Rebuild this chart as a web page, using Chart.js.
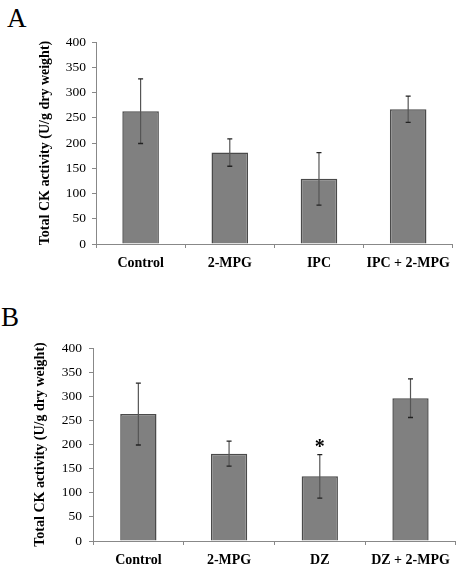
<!DOCTYPE html>
<html>
<head>
<meta charset="utf-8">
<script src="https://cdn.jsdelivr.net/npm/chart.js@4"></script>
<style>
  body { margin: 0; background: #fff; }
  .panel { position: absolute; left: 0; }
  .letter { position: absolute; font-family: "Liberation Serif", serif; font-size: 27px; color: #000; line-height: 1; }
</style>
</head>
<body>
<div class="letter" style="left:7px; top:5px;">A</div>
<div class="letter" style="left:1px; top:304px;">B</div>
<canvas id="chart-a" class="panel" style="top:0" width="457" height="283"></canvas>
<canvas id="chart-b" class="panel" style="top:283px" width="457" height="284"></canvas>
<script>
const categoriesA = ['Control', '2-MPG', 'IPC', 'IPC + 2-MPG'];
const meansA = [263, 181, 129, 267];
const errorsA = [64, 27, 52, 26];

const categoriesB = ['Control', '2-MPG', 'DZ', 'DZ + 2-MPG'];
const meansB = [263, 181, 134, 296];
const errorsB = [64, 26, 45, 40];
const markersB = ['', '', '*', ''];

const yMin = 0;
const yMax = 400;
const yStep = 50;
const yTitle = 'Total CK activity (U/g dry weight)';

const serif = '"Liberation Serif", "Times New Roman", serif';

// error bars + significance marks, drawn from the bar scales
const errorBarPlugin = {
  id: 'errorBars',
  afterDatasetsDraw(chart, args, opts) {
    const {ctx, scales: {x, y}} = chart;
    const means = chart.data.datasets[0].data;
    ctx.save();
    means.forEach((m, i) => {
      const cx = x.getPixelForValue(i);
      const top = y.getPixelForValue(m + opts.errors[i]);
      const bot = y.getPixelForValue(m - opts.errors[i]);
      ctx.strokeStyle = '#555';
      ctx.lineWidth = 1.2;
      ctx.beginPath();
      ctx.moveTo(cx, top);
      ctx.lineTo(cx, bot);
      ctx.stroke();
      ctx.strokeStyle = '#222';
      ctx.lineWidth = 1.3;
      ctx.beginPath();
      ctx.moveTo(cx - 2.5, top);
      ctx.lineTo(cx + 2.5, top);
      ctx.moveTo(cx - 2.5, bot);
      ctx.lineTo(cx + 2.5, bot);
      ctx.stroke();
      const mark = opts.markers ? opts.markers[i] : '';
      if (mark) {
        ctx.fillStyle = '#000';
        ctx.font = 'bold 20px ' + serif;
        ctx.textAlign = 'center';
        ctx.textBaseline = 'alphabetic';
        ctx.fillText(mark, cx, top - 2);
      }
    });
    ctx.restore();
  }
};

const makeChart = (id, labels, means, errors, markers, cfg) => {
  const el = document.getElementById(id).getContext('2d');
  return new Chart(el, {
    type: 'bar',
    data: {
      labels: labels,
      datasets: [{
        data: means,
        backgroundColor: '#808080',
        borderColor: '#4a4a4a',
        borderWidth: 1.5,
        borderSkipped: 'bottom',
        categoryPercentage: 1,
        barPercentage: cfg.barPct,
      }],
    },
    options: {
      responsive: false,
      animation: false,
      devicePixelRatio: 1,
      layout: {
        padding: {top: cfg.padTop, right: 1, bottom: 0, left: 0},
      },
      scales: {
        x: {
          offset: true,
          grid: {
            offset: true,
            drawOnChartArea: false,
            tickLength: 4,
            color: '#888',
          },
          border: {
            display: true,
            color: '#888',
            width: 1,
          },
          ticks: {
            color: '#000',
            padding: 7,
            maxRotation: 0,
            autoSkip: false,
            font: {family: serif, size: 14, weight: 'bold'},
          },
          afterFit: (scale) => { scale.height = cfg.xHeight; },
        },
        y: {
          min: yMin,
          max: yMax,
          grid: {
            drawOnChartArea: false,
            tickLength: 4,
            color: '#888',
          },
          border: {
            display: true,
            color: '#888',
            width: 1,
          },
          ticks: {
            stepSize: yStep,
            color: '#000',
            padding: cfg.tickPad,
            font: {family: serif, size: 13.5},
          },
          title: {
            display: true,
            text: yTitle,
            color: '#000',
            padding: {top: cfg.titlePad, bottom: 0},
            font: {family: serif, size: 14, weight: 'bold'},
          },
          afterFit: (scale) => { scale.width = cfg.yWidth; },
        },
      },
      plugins: {
        legend: {display: false},
        tooltip: {enabled: false},
        errorBars: {errors: errors, markers: markers},
      },
    },
    plugins: [errorBarPlugin],
  });
};

makeChart('chart-a', categoriesA, meansA, errorsA, null,
  {barPct: 0.41, padTop: 42, xHeight: 39, yWidth: 96, tickPad: 6, titlePad: 37});
makeChart('chart-b', categoriesB, meansB, errorsB, markersB,
  {barPct: 0.40, padTop: 65, xHeight: 26, yWidth: 93, tickPad: 7, titlePad: 32});
</script>
</body>
</html>
